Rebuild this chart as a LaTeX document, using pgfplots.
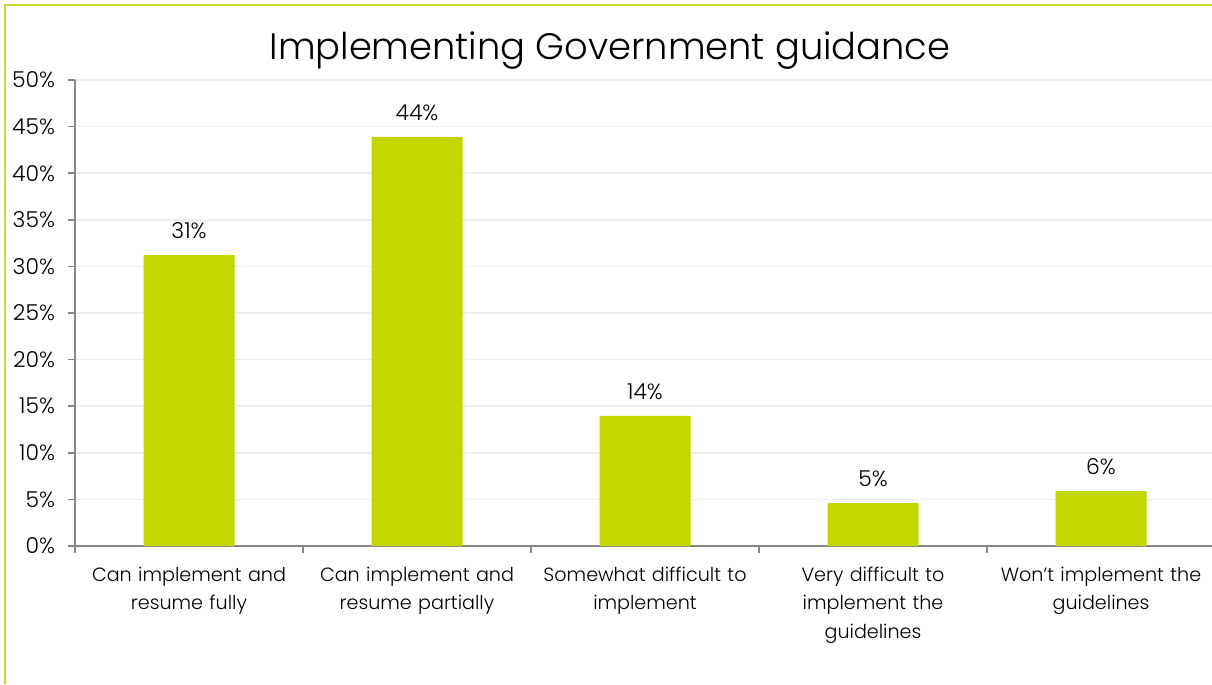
\documentclass[border=0pt]{standalone}
\usepackage{pgfplots}
\pgfplotsset{compat=1.18}
\usepackage{fontspec}
\setmainfont{Poppins}[UprightFont=* Light]
\definecolor{barc}{HTML}{C4D600}
\definecolor{framec}{HTML}{C9DA2A}
\definecolor{axc}{HTML}{868686}
\definecolor{gridc}{HTML}{EEEEEE}
\begin{document}
\begin{tikzpicture}[x=1bp,y=1bp]
\useasboundingbox (0,0) rectangle (606,342);
\fill[white] (0,0) rectangle (606,342);
\draw[framec, line width=1bp] (2.5,0) -- (2.5,339.5) -- (606,339.5);
\node[font=\fontsize{18.5}{22}\selectfont] at (305,316.5) {Implementing Government guidance};
\begin{axis}[
  at={(37.5bp,69bp)}, anchor=south west,
  scale only axis, width=570bp, height=233bp,
  xmin=-0.5, xmax=4.5, ymin=0, ymax=50,
  axis x line*=bottom, axis y line*=left,
  axis line style={axc, line width=0.8bp},
  ytick={0,5,...,50},
  yticklabel={\pgfmathprintnumber{\tick}\%},
  /pgf/number format/assume math mode=true,
  ymajorgrids, major grid style={gridc, line width=0.8bp},
  tick align=outside,
  major tick length=3.5bp, minor tick length=3.5bp,
  ytick style={axc, line width=0.8bp},
  major x tick style={draw=none},
  minor x tick style={axc, line width=0.8bp},
  xtick={0,1,2,3,4},
  minor xtick={-0.5,0.5,1.5,2.5,3.5,4.5},
  xticklabels={{Can implement and\\resume fully},{Can implement and\\resume partially},{Somewhat difficult to\\implement},{Very difficult to\\implement the\\guidelines},{Won't implement the\\guidelines}},
  xticklabel style={align=center, text width=130bp, font=\fontsize{9.6}{14.2}\selectfont, yshift=-3.5bp},
  yticklabel style={font=\fontsize{11}{12}\selectfont, xshift=-3bp},
  ybar, bar width=45.5bp,
  nodes near coords={\pgfmathprintnumber[fixed,precision=0]{\pgfplotspointmeta}\%},
  nodes near coords style={font=\fontsize{11}{12}\selectfont, black, yshift=4.5bp},
  clip=false,
]
\addplot[fill=barc, draw=none] coordinates {(0,31.2) (1,43.9) (2,13.95) (3,4.6) (4,5.9)};
\end{axis}
\end{tikzpicture}
\end{document}
